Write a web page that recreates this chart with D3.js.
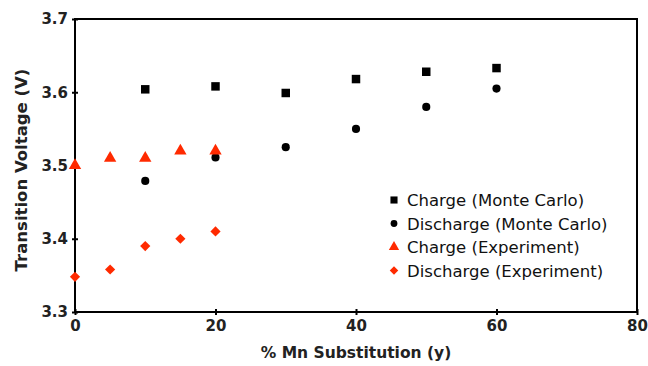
<!DOCTYPE html>
<html>
<head>
<meta charset="utf-8">
<script src="https://cdn.jsdelivr.net/npm/d3@7"></script>
<style>
  body { margin: 0; background: #fff; }
  text { font-family: "DejaVu Sans", Verdana, sans-serif; }
</style>
</head>
<body>
<div id="chart"></div>
<script>
const xTicks = [0, 20, 40, 60, 80];
const yTicks = [3.3, 3.4, 3.5, 3.6, 3.7];

const mcX = [10, 20, 30, 40, 50, 60];
const chargeMC = [3.604, 3.608, 3.599, 3.618, 3.628, 3.633];
const dischargeMC = [3.479, 3.511, 3.525, 3.550, 3.580, 3.605];

const expX = [0, 5, 10, 15, 20];
const chargeExp = [3.500, 3.510, 3.510, 3.520, 3.520];
const dischargeExp = [3.348, 3.358, 3.390, 3.400, 3.410];

const seriesNames = ['Charge (Monte Carlo)', 'Discharge (Monte Carlo)', 'Charge (Experiment)', 'Discharge (Experiment)'];

const width = 648, height = 366;
const mLeft = 75, mRight = 637, mTop = 19, mBottom = 312;
const red = '#ff2a00';

const svg = d3.select('#chart').append('svg')
    .attr('width', width)
    .attr('height', height);

const x = d3.scaleLinear().domain([0, 80]).range([mLeft, mRight]);
const y = d3.scaleLinear().domain([3.3, 3.7]).range([mBottom, mTop]);

// frame
svg.append('rect')
    .attr('x', mLeft).attr('y', mTop)
    .attr('width', mRight - mLeft).attr('height', mBottom - mTop)
    .attr('fill', 'none').attr('stroke', '#000').attr('stroke-width', 2);

// y axis
const yAxis = svg.append('g')
    .attr('transform', `translate(${mLeft},0)`)
    .call(d3.axisLeft(y).tickValues(yTicks).tickFormat(d3.format('.1f')).tickSize(3).tickPadding(4));
yAxis.select('.domain').remove();
yAxis.selectAll('.tick line').attr('x2', 3).attr('x1', -3).attr('stroke-width', 2);
yAxis.selectAll('.tick text')
    .attr('font-size', 15).attr('font-weight', 'bold').attr('fill', '#222')
    .attr('font-family', '"DejaVu Sans", sans-serif');

// x axis
const xAxis = svg.append('g')
    .attr('transform', `translate(0,${mBottom})`)
    .call(d3.axisBottom(x).tickValues(xTicks).tickFormat(d3.format('d')).tickSize(3).tickPadding(5));
xAxis.select('.domain').remove();
xAxis.selectAll('.tick line').attr('y1', -3).attr('y2', 3).attr('stroke-width', 2);
xAxis.selectAll('.tick text')
    .attr('font-size', 15).attr('font-weight', 'bold').attr('fill', '#222')
    .attr('font-family', '"DejaVu Sans", sans-serif');

// axis titles
svg.append('text')
    .attr('x', 356).attr('y', 358)
    .attr('text-anchor', 'middle')
    .attr('font-size', 15.5).attr('font-weight', 'bold').attr('fill', '#222')
    .text('% Mn Substitution (y)');

svg.append('text')
    .attr('transform', `translate(27,170) rotate(-90)`)
    .attr('text-anchor', 'middle')
    .attr('font-size', 16.5).attr('font-weight', 'bold').attr('fill', '#222')
    .text('Transition Voltage (V)');

const symbols = [
  { type: d3.symbolSquare, size: 72, color: '#000', rot: 0 },
  { type: d3.symbolCircle, size: 52, color: '#000', rot: 0 },
  { type: d3.symbolTriangle, size: 66, color: red, rot: 0 },
  { type: d3.symbolSquare, size: 52, color: red, rot: 45 }
];

const series = [
  { xs: mcX, ys: chargeMC },
  { xs: mcX, ys: dischargeMC },
  { xs: expX, ys: chargeExp },
  { xs: expX, ys: dischargeExp }
];

series.forEach((s, k) => {
  const sym = symbols[k];
  svg.append('g').selectAll('path')
      .data(s.ys)
      .join('path')
      .attr('transform', (d, i) => `translate(${x(s.xs[i])},${y(d)}) rotate(${sym.rot})`)
      .attr('d', d3.symbol().type(sym.type).size(sym.size))
      .attr('fill', sym.color);
});

// legend
const legend = svg.append('g').attr('transform', 'translate(394,200)');
seriesNames.forEach((name, k) => {
  const sym = symbols[k];
  const g = legend.append('g').attr('transform', `translate(0,${k * 23.5})`);
  g.append('path')
      .attr('transform', `rotate(${sym.rot})`)
      .attr('d', d3.symbol().type(sym.type).size(sym.size * 0.7))
      .attr('fill', sym.color);
  g.append('text')
      .attr('x', 13).attr('y', 6)
      .attr('font-size', 16.5).attr('fill', '#111')
      .text(name);
});
</script>
</body>
</html>
